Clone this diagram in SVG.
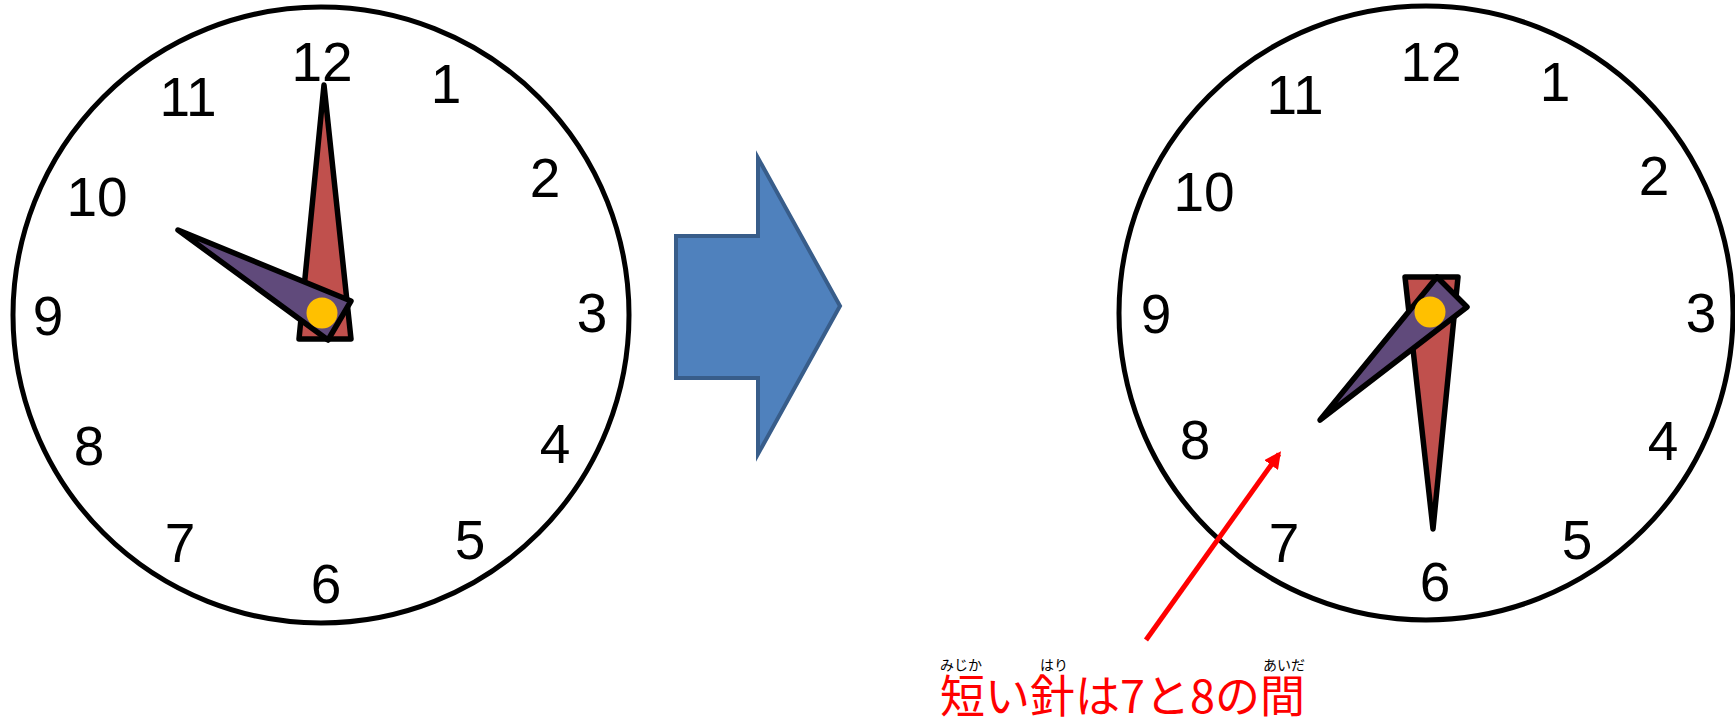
<svg xmlns="http://www.w3.org/2000/svg" width="1735" height="720" viewBox="0 0 1735 720">
<style>
.face{fill:#fff;stroke:#000;stroke-width:5}
.num{font-family:"Liberation Sans",Arial,sans-serif;font-size:55px;fill:#000;text-anchor:middle}
.min{fill:#C0504D;stroke:#000;stroke-width:5.5;stroke-linejoin:round}
.hour{fill:#604A7B;stroke:#000;stroke-width:5.5;stroke-linejoin:round}
.pin{fill:#FFC000}
.jp{font-family:"Noto Sans CJK JP","Noto Sans CJK SC",sans-serif;fill:#FF0000;font-size:45px}
.ruby{font-family:"Noto Sans CJK JP","Noto Sans CJK SC",sans-serif;fill:#000;font-size:14px;text-anchor:middle}
</style>
<defs>
<marker id="ah" viewBox="0 0 10 10" refX="8" refY="5" markerWidth="3.4" markerHeight="3.4" orient="auto" markerUnits="strokeWidth">
<path d="M0,0 L10,5 L0,10 z" fill="#FF0000"/>
</marker>
</defs>
<rect width="1735" height="720" fill="#fff"/>
<g id="clock-left">
<circle class="face" cx="321" cy="315" r="308"/>
<text class="num" x="322" y="81">12</text>
<text class="num" x="446" y="103">1</text>
<text class="num" x="545" y="197">2</text>
<text class="num" x="592" y="332">3</text>
<text class="num" x="555" y="463">4</text>
<text class="num" x="470" y="559">5</text>
<text class="num" x="326" y="603">6</text>
<text class="num" x="180" y="562">7</text>
<text class="num" x="89" y="465">8</text>
<text class="num" x="48" y="335">9</text>
<text class="num" x="97" y="216">10</text>
<text class="num" x="188" y="116">11</text>
<polygon class="min" points="324,85 351,339 299,339"/>
<polygon class="hour" points="178,230 351,301 328,340"/>
<circle class="pin" cx="322" cy="313" r="15.5"/>
</g>
<g id="big-arrow">
<polygon points="676,236 758,236 758,158 840,306 758,454 758,378 676,378" fill="#4F81BD" stroke="#385D8A" stroke-width="4"/>
</g>
<g id="clock-right">
<circle class="face" cx="1426" cy="313" r="307"/>
<text class="num" x="1431" y="81">12</text>
<text class="num" x="1555" y="101">1</text>
<text class="num" x="1654" y="195">2</text>
<text class="num" x="1701" y="332">3</text>
<text class="num" x="1663" y="460">4</text>
<text class="num" x="1577" y="559">5</text>
<text class="num" x="1435" y="601">6</text>
<text class="num" x="1284" y="562">7</text>
<text class="num" x="1195" y="459">8</text>
<text class="num" x="1156" y="333">9</text>
<text class="num" x="1204" y="211">10</text>
<text class="num" x="1295" y="114">11</text>
<polygon class="min" points="1405,277 1458,277 1433,529"/>
<polygon class="hour" points="1437,277 1467,307 1320,420"/>
<circle class="pin" cx="1430" cy="312" r="15.5"/>
</g>
<g id="connectors">
<line x1="1146" y1="640" x2="1279" y2="454" stroke="#FF0000" stroke-width="5" marker-end="url(#ah)"/>
</g>
<g id="label">
<text class="ruby" x="961" y="670">みじか</text>
<text class="ruby" x="1054" y="670">はり</text>
<text class="ruby" x="1284" y="670">あいだ</text>
<text class="jp" x="940" y="713">短い針は7と8の間</text>
</g>
</svg>
